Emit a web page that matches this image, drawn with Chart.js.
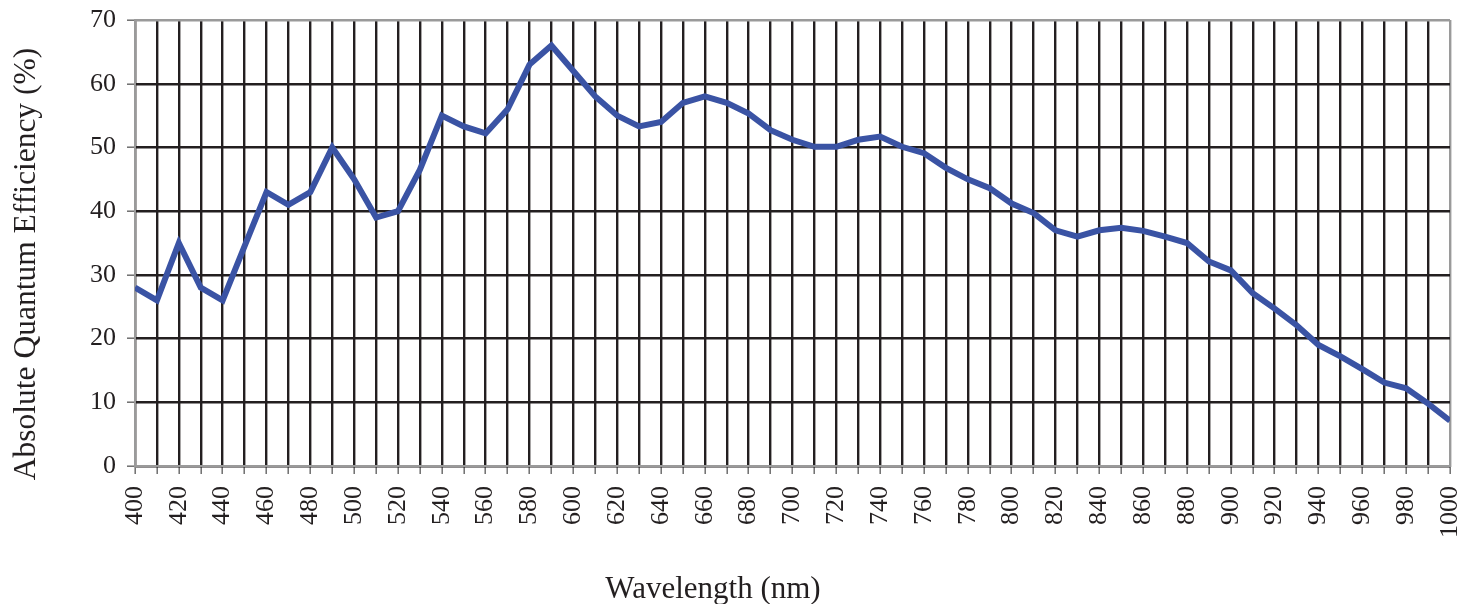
<!DOCTYPE html>
<html>
<head>
<meta charset="utf-8">
<script src="https://cdn.jsdelivr.net/npm/chart.js@4/dist/chart.umd.min.js"></script>
<style>
  html, body { margin: 0; padding: 0; background: #ffffff; }
  #wrap { width: 1470px; height: 604px; position: relative; }
</style>
</head>
<body>
<div id="wrap"><canvas id="c" width="1470" height="604"></canvas></div>
<script>
// ---- data ----
const wavelengths = [400,410,420,430,440,450,460,470,480,490,500,510,520,530,540,550,560,570,580,590,
  600,610,620,630,640,650,660,670,680,690,700,710,720,730,740,750,760,770,780,790,
  800,810,820,830,840,850,860,870,880,890,900,910,920,930,940,950,960,970,980,990,1000];
const qe = [28,26,35,28,26,34.5,43,41,43,50,45,39,40,46.5,55,53.3,52.2,56,63,66,
  62,58,55,53.3,54,57,58,57,55.3,52.7,51.2,50.1,50.1,51.2,51.7,50.1,49.1,46.8,45,43.6,
  41.2,39.7,37,36,37,37.4,36.9,36,35,32.1,30.7,27.1,24.7,22.1,19,17.2,15.2,13.1,12.2,9.8,7.1];
const xTickLabels = ['400','420','440','460','480','500','520','540','560','580','600','620','640','660','680','700',
  '720','740','760','780','800','820','840','860','880','900','920','940','960','980','1000'];
const yTickLabels = ['0','10','20','30','40','50','60','70'];
const xTitle = 'Wavelength (nm)';
const yTitle = 'Absolute Quantum Efficiency (%)';

const TEXT = '#231f20';
const GRID = '#231f20';
const EDGE = '#9a9a9a';
const FONT = "'Liberation Serif', 'Times New Roman', serif";

const titlePlugin = {
  id: 'axisTitles',
  afterDraw(chart) {
    const ctx = chart.ctx;
    ctx.save();
    ctx.fillStyle = TEXT;
    ctx.font = "31px " + FONT;
    ctx.textAlign = 'center';
    ctx.textBaseline = 'alphabetic';
    ctx.fillText(xTitle, 713, 598);
    ctx.translate(35, 264);
    ctx.rotate(-Math.PI / 2);
    ctx.font = "31.5px " + FONT;
    ctx.fillText(yTitle, 0, 0);
    ctx.restore();
  }
};

new Chart(document.getElementById('c'), {
  type: 'line',
  data: {
    datasets: [{
      data: wavelengths.map((w, i) => ({ x: w, y: qe[i] })),
      borderColor: '#3a53a4',
      borderWidth: 6,
      pointRadius: 0,
      tension: 0,
      borderJoinStyle: 'miter',
      fill: false
    }]
  },
  options: {
    responsive: false,
    animation: false,
    layout: { padding: { left: 0, right: 20, top: 20, bottom: 0 } },
    plugins: { legend: { display: false }, tooltip: { enabled: false } },
    scales: {
      x: {
        type: 'linear',
        min: 400, max: 1000,
        afterFit(scale) {
          scale.height = 138;
          scale.paddingLeft = 0; scale.paddingRight = 0;
        },
        afterBuildTicks(scale) {
          scale.ticks = wavelengths.map(v => ({ value: v }));
        },
        ticks: {
          autoSkip: false,
          minRotation: 90, maxRotation: 90,
          padding: 12,
          color: TEXT,
          font: { family: FONT, size: 26 },
          callback: (v) => xTickLabels.includes(String(v)) ? String(v) : ''
        },
        grid: {
          color: (c) => (c.tick && c.tick.value === 1000) ? EDGE : GRID,
          lineWidth: 2.4,
          tickLength: 8,
          tickColor: '#6d6d6d',
          tickWidth: 1.5
        },
        border: { color: EDGE, width: 2 }
      },
      y: {
        min: 0, max: 70,
        afterFit(scale) {
          scale.width = 135;
          scale.paddingTop = 0; scale.paddingBottom = 0;
        },
        afterBuildTicks(scale) {
          scale.ticks = yTickLabels.map(t => ({ value: Number(t) }));
        },
        ticks: {
          padding: 11,
          color: TEXT,
          font: { family: FONT, size: 26 },
          callback: (v) => yTickLabels.includes(String(v)) ? String(v) : ''
        },
        grid: {
          color: (c) => (c.tick && c.tick.value === 70) ? EDGE : GRID,
          lineWidth: 2.4,
          tickLength: 8,
          tickColor: '#6d6d6d',
          tickWidth: 1.5
        },
        border: { color: EDGE, width: 2 }
      }
    }
  },
  plugins: [titlePlugin]
});
</script>
</body>
</html>
